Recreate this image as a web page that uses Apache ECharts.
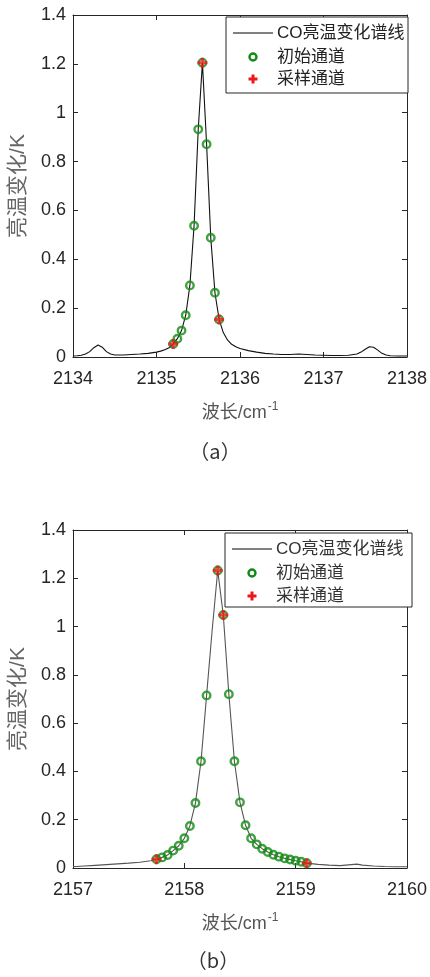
<!DOCTYPE html>
<html><head><meta charset="utf-8">
<script src="https://cdn.jsdelivr.net/npm/echarts@6/dist/echarts.min.js"></script>
<style>html,body{margin:0;padding:0;background:#fff}#c{width:430px;height:977px}</style>
</head><body><div id="c"></div>
<script>
// ---- Panel (a) ----
const lineAX = [2134.00,2134.05,2134.10,2134.15,2134.20,2134.25,2134.30,2134.35,2134.40,2134.45,2134.50,2134.60,2134.70,2134.80,2134.90,2135.00,2135.05,2135.10,2135.15,2135.20,2135.25,2135.30,2135.35,2135.40,2135.45,2135.50,2135.55,2135.60,2135.65,2135.70,2135.75,2135.80,2135.85,2135.90,2135.95,2136.00,2136.10,2136.20,2136.30,2136.40,2136.50,2136.60,2136.70,2136.80,2136.90,2137.00,2137.10,2137.20,2137.30,2137.40,2137.45,2137.50,2137.55,2137.60,2137.65,2137.70,2137.75,2137.80,2137.90,2138.00];
const lineAY = [0.004,0.005,0.007,0.012,0.022,0.038,0.049,0.040,0.022,0.012,0.008,0.008,0.010,0.012,0.015,0.020,0.024,0.030,0.038,0.053,0.075,0.108,0.171,0.293,0.537,0.932,1.205,0.871,0.488,0.263,0.154,0.100,0.070,0.052,0.042,0.035,0.026,0.020,0.015,0.012,0.010,0.010,0.012,0.010,0.008,0.007,0.006,0.006,0.007,0.012,0.020,0.032,0.042,0.040,0.028,0.015,0.008,0.005,0.004,0.004];
const initAX = [2135.20,2135.25,2135.30,2135.35,2135.40,2135.45,2135.50,2135.55,2135.60,2135.65,2135.70,2135.75];
const initAY = [0.053,0.075,0.108,0.171,0.293,0.537,0.932,1.205,0.871,0.488,0.263,0.154];
const sampAX = [2135.20,2135.55,2135.75];
const sampAY = [0.053,1.205,0.154];

// ---- Panel (b) ----
const lineBX = [2157.00,2157.10,2157.20,2157.30,2157.40,2157.50,2157.60,2157.70,2157.75,2157.80,2157.85,2157.90,2157.95,2158.00,2158.05,2158.10,2158.15,2158.20,2158.25,2158.30,2158.35,2158.40,2158.45,2158.50,2158.55,2158.60,2158.65,2158.70,2158.75,2158.80,2158.85,2158.90,2158.95,2159.00,2159.05,2159.10,2159.20,2159.30,2159.40,2159.50,2159.55,2159.60,2159.70,2159.80,2159.90,2160.00];
const lineBY = [0.005,0.008,0.011,0.014,0.017,0.020,0.024,0.030,0.036,0.044,0.054,0.072,0.092,0.123,0.174,0.269,0.442,0.715,0.985,1.232,1.048,0.720,0.442,0.272,0.177,0.123,0.098,0.080,0.066,0.055,0.047,0.040,0.035,0.030,0.026,0.020,0.015,0.012,0.010,0.014,0.016,0.012,0.008,0.006,0.005,0.005];
const initBX = [2157.75,2157.80,2157.85,2157.90,2157.95,2158.00,2158.05,2158.10,2158.15,2158.20,2158.30,2158.35,2158.40,2158.45,2158.50,2158.55,2158.60,2158.65,2158.70,2158.75,2158.80,2158.85,2158.90,2158.95,2159.00,2159.05,2159.10];
const initBY = [0.036,0.044,0.054,0.072,0.092,0.123,0.174,0.269,0.442,0.715,1.232,1.048,0.720,0.442,0.272,0.177,0.123,0.098,0.080,0.066,0.055,0.047,0.040,0.035,0.030,0.026,0.020];
const sampBX = [2157.75,2158.30,2158.35,2159.10];
const sampBY = [0.036,1.232,1.048,0.020];

const legendNames = ['CO亮温变化谱线','初始通道','采样通道'];
const yName = '亮温变化/K';
const xName = '波长/cm{sup|-1}';
const captions = ['（a）','（b）'];

const zip = (a,b)=>a.map((v,i)=>[v,b[i]]);
const FONT = 'Arial, "Liberation Sans", "Noto Sans CJK SC", sans-serif';
const AX = '#262626', GREEN = '#138a13', RED = '#ee1616';
const PLUS = 'path://M3.5,0H6.5V3.5H10V6.5H6.5V10H3.5V6.5H0V3.5H3.5Z';

const grids = [
  {left:70, top:15, width:340, height:342},
  {left:70, top:530, width:340, height:338}
];
const xr = [[2134,2138],[2157,2160]];

function xAxes(g){
  const base = {gridIndex:g, type:'value', min:xr[g][0], max:xr[g][1], interval:1,
    axisLine:{show:true,onZero:false,lineStyle:{color:AX,width:1}},
    axisTick:{show:true,inside:true,length:5,lineStyle:{color:AX}},
    splitLine:{show:false}};
  return [
    Object.assign({}, base, {position:'bottom',
      axisLabel:{color:AX,fontSize:18,fontFamily:FONT,margin:13,formatter:v=>String(v)},
      name:xName, nameLocation:'middle', nameGap:44,
      nameTextStyle:{color:'#555',fontSize:18,fontFamily:FONT,
        rich:{sup:{fontSize:12,fontFamily:FONT,color:'#555',padding:[0,0,12,1]}}}}),
    Object.assign({}, base, {position:'top', axisLabel:{show:false}})
  ];
}
function yAxes(g){
  const base = {gridIndex:g, type:'value', min:0, max:1.4, interval:0.2,
    axisLine:{show:true,onZero:false,lineStyle:{color:AX,width:1}},
    axisTick:{show:true,inside:true,length:5,lineStyle:{color:AX}},
    splitLine:{show:false}};
  return [
    Object.assign({}, base, {position:'left',
      axisLabel:{color:AX,fontSize:18,fontFamily:FONT,margin:7,
        formatter:v=>String(+(+v).toFixed(1))},
      name:yName, nameLocation:'middle', nameGap:44, nameRotate:90,
      nameTextStyle:{color:'#666',fontSize:21,fontFamily:FONT}}),
    Object.assign({}, base, {position:'right', axisLabel:{show:false}})
  ];
}

function seriesFor(g, lx, ly, ix, iy, sx, sy, lineColor){
  return [
    {type:'line', xAxisIndex:2*g, yAxisIndex:2*g, data:zip(lx,ly), symbol:'none',
      lineStyle:{color:lineColor,width:1.1}, z:2, animation:false, silent:true},
    {type:'scatter', name:legendNames[1], xAxisIndex:2*g, yAxisIndex:2*g, data:zip(ix,iy),
      symbol:'circle', symbolSize:7.5,
      itemStyle:{color:'rgba(0,0,0,0)',borderColor:GREEN,borderWidth:2.4}, z:3, animation:false},
    {type:'scatter', name:legendNames[2], xAxisIndex:2*g, yAxisIndex:2*g, data:zip(sx,sy),
      symbol:PLUS, symbolSize:10, itemStyle:{color:RED}, z:4, animation:false}
  ];
}

function legendGraphic(x, y, w, h, rows, textColor){
  const els = [
    {type:'rect', shape:{x:x,y:y,width:w,height:h}, style:{fill:'#fff',stroke:AX,lineWidth:1}, z:10},
    {type:'line', shape:{x1:x+7,y1:rows[0],x2:x+47,y2:rows[0]}, style:{stroke:'#000',lineWidth:1}, z:11},
    {type:'circle', shape:{cx:x+27,cy:rows[1],r:3.5}, style:{fill:'none',stroke:GREEN,lineWidth:2.4}, z:11},
    {type:'rect', shape:{x:x+22.5,y:rows[2]-1.5,width:9,height:3}, style:{fill:RED}, z:11},
    {type:'rect', shape:{x:x+25.5,y:rows[2]-4.5,width:3,height:9}, style:{fill:RED}, z:11}
  ];
  legendNames.forEach((n,i)=>{
    els.push({type:'text', x:x+51, y:rows[i], z:11,
      style:{text:n, fontSize:17, fontFamily:FONT, fill:textColor, textVerticalAlign:'middle', textAlign:'left'}});
  });
  return els;
}

const chart = echarts.init(document.getElementById('c'), null, {renderer:'canvas'});
chart.setOption({
  backgroundColor:'#fff',
  animation:false,
  grid:grids,
  xAxis:[...xAxes(0), ...xAxes(1)],
  yAxis:[...yAxes(0), ...yAxes(1)],
  series:[
    ...seriesFor(0, lineAX, lineAY, initAX, initAY, sampAX, sampAY, '#111'),
    ...seriesFor(1, lineBX, lineBY, initBX, initBY, sampBX, sampBY, '#555')
  ],
  graphic:[
    ...legendGraphic(226, 17, 182, 76, [33, 57, 79], '#222'),
    ...legendGraphic(225, 533, 187, 74, [549, 573, 596], '#333'),
    {type:'text', x:215, y:451, style:{text:captions[0], fontSize:20, fontFamily:'"Noto Sans CJK SC", serif', fill:'#333', textAlign:'center', textVerticalAlign:'middle'}},
    {type:'text', x:213, y:960, style:{text:captions[1], fontSize:20, fontFamily:'"Noto Sans CJK SC", serif', fill:'#333', textAlign:'center', textVerticalAlign:'middle'}}
  ]
});
</script></body></html>
